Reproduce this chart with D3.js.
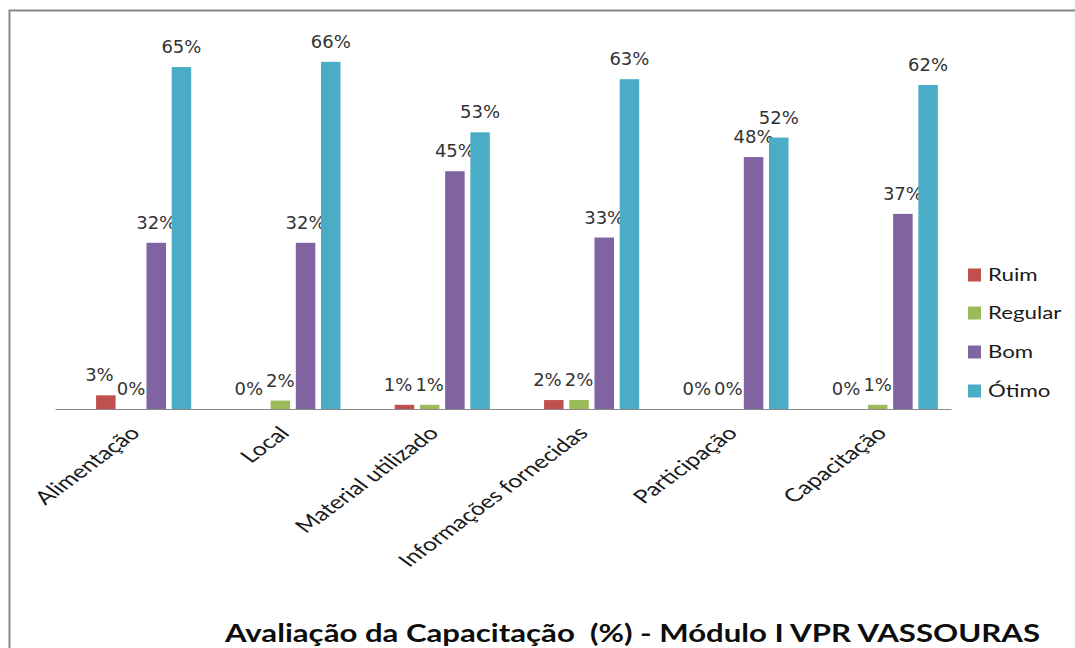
<!DOCTYPE html>
<html><head><meta charset="utf-8">
<script src="https://cdn.jsdelivr.net/npm/d3@7"></script>
<style>html,body{margin:0;padding:0;background:#fff;}svg{display:block;}text{white-space:pre;}</style>
</head><body>
<svg id="c" width="1075" height="648"></svg>
<script>
const categories = ["Alimentação","Local","Material utilizado","Informações fornecidas","Participação","Capacitação"];
const seriesNames = ["Ruim","Regular","Bom","Ótimo"];
const ruim    = [2.6, 0,   0.8, 1.7, 0,    0];
const regular = [0,   1.6, 0.8, 1.7, 0,    0.8];
const bom     = [31.6,31.6,45.2,32.6,47.9, 37.1];
const otimo   = [65.0,66.0,52.6,62.7,51.6, 61.6];
const colors  = ["#C0504D","#9BBB59","#8064A2","#4BACC6"];
const title = "Avaliação da Capacitação  (%) - Módulo I VPR VASSOURAS";

const seriesValues = [ruim, regular, bom, otimo];
const SX = 1.35;
const svg = d3.select("#c");
const font = "Lato, 'Open Sans', sans-serif";

// border
svg.append("rect").attr("x",9.5).attr("y",10.5).attr("width",1100).attr("height",700)
  .attr("fill","none").attr("stroke","#878787").attr("stroke-width",2);

const x0 = d3.scaleBand().domain(categories).range([55, 951]);
const bw = x0.bandwidth();
const x1 = d3.scaleBand().domain(seriesNames).range([bw*0.275, bw*0.912]).paddingInner(0.226).paddingOuter(0);
const y = d3.scaleLinear().domain([0,70]).range([409, 409-70*5.26]);

const g = svg.append("g");
categories.forEach((c,ci)=>{
  const labs = [];
  seriesNames.forEach((s,si)=>{
    const v = seriesValues[si][ci];
    const bx = x0(c)+x1(s);
    if (v>0) {
      g.append("rect").attr("x",bx).attr("y",y(v)).attr("width",x1.bandwidth()).attr("height",y(0)-y(v))
        .attr("fill",colors[si]);
    }
    labs.push(g.append("text").attr("x",bx+x1.bandwidth()/2).attr("y",y(v)-14)
      .attr("text-anchor","middle").attr("font-family","'DejaVu Sans', sans-serif").attr("font-size",18)
      .attr("fill","#333333").text(d3.format(".0f")(v)+"%"));
  });
  // simple overlap avoidance between the two small-value labels
  const a = labs[0].node().getBBox(), b = labs[1].node().getBBox();
  const vOverlap = a.y < b.y + b.height && b.y < a.y + a.height;
  if (vOverlap && a.x + a.width > b.x - 2) {
    const shift = a.x + a.width - b.x + 3;
    labs[0].attr("x", +labs[0].attr("x") - shift);
  }
});

// axis
const axis = svg.append("g").attr("transform","translate(0,409)").call(d3.axisBottom(x0).tickSize(0).tickFormat(""));
axis.select(".domain").attr("stroke","#8a8a8a").attr("stroke-width",1.2);

categories.forEach(c=>{
  const cx = x0(c)+bw/2;
  svg.append("text")
    .attr("transform",`translate(${cx-1},425) scale(${SX},1) rotate(-45)`)
    .attr("text-anchor","end").attr("dy","0.72em")
    .attr("font-family",font).attr("font-size",18.5).attr("fill","#1a1a1a").text(c);
});

// legend
const ly = [275,313,352,391];
seriesNames.forEach((s,i)=>{
  svg.append("rect").attr("x",968).attr("y",ly[i]-6.5).attr("width",13).attr("height",13).attr("fill",colors[i]);
  svg.append("text").attr("transform",`translate(988,${ly[i]}) scale(${SX},1)`).attr("dy","0.36em")
    .attr("font-family",font).attr("font-size",16.5).attr("fill","#1a1a1a").text(s);
});

// title
svg.append("text").attr("x",225).attr("y",642).attr("textLength",815).attr("lengthAdjust","spacingAndGlyphs")
  .attr("font-family",font).attr("font-weight","bold").attr("font-size",25).attr("fill","#0d0d0d").text(title);
</script>
</body></html>
